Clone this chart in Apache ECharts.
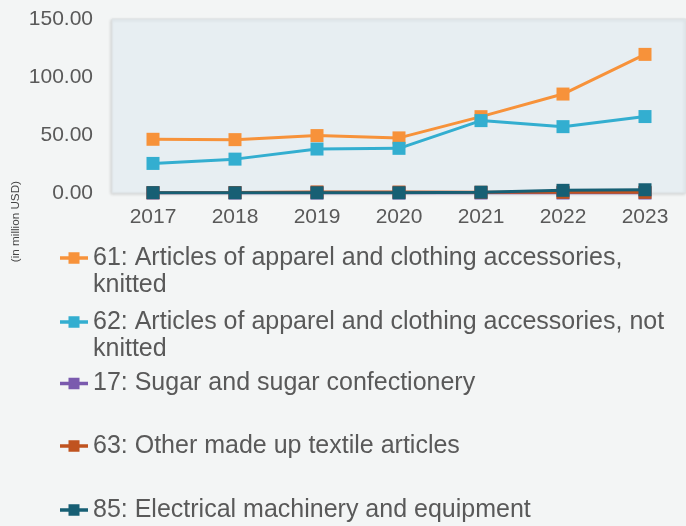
<!DOCTYPE html>
<html><head><meta charset="utf-8">
<script src="https://cdn.jsdelivr.net/npm/echarts@6/dist/echarts.min.js"></script>
<style>html,body{margin:0;padding:0;background:#f3f5f5;}#c{width:686px;height:526px;}</style>
</head><body><div id="c"></div>
<script>
const years = ['2017','2018','2019','2020','2021','2022','2023'];
const names = [
  '61: Articles of apparel and clothing accessories, knitted',
  '62: Articles of apparel and clothing accessories, not knitted',
  '17: Sugar and sugar confectionery',
  '63: Other made up textile articles',
  '85: Electrical machinery and equipment'
];
const s61 = [46.3, 46.0, 49.5, 47.5, 65.8, 85.3, 119.5];
const s62 = [25.5, 29.2, 37.9, 38.5, 62.4, 57.2, 65.9];
const s17 = [0.0, 0.0, 0.0, 0.0, 0.0, 0.0, 0.0];
const s63 = [0.3, 0.4, 0.9, 0.8, 0.6, 0.6, 0.6];
const s85 = [0.3, 0.2, 0.2, 0.2, 0.7, 2.3, 2.8];
const yTicks = [0, 50, 100, 150];

const colors = ['#f7923a', '#33aed0', '#7a5aae', '#c0531f', '#175f74'];
const seriesData = [s61, s62, s17, s63, s85];
const legendLabels = [
  '61: Articles of apparel and clothing accessories,\nknitted',
  '62: Articles of apparel and clothing accessories, not\nknitted',
  names[2], names[3], names[4]
];
const twoLine = [true, true, false, false, false];
const iconCenters = [258, 322, 383.5, 446, 510];
const LH = 27;

// legend glyph: short line with a square in the middle (first line of text)
const shape = 'M0,12 H8.5 V8 H19.5 V12 H28 V15.5 H19.5 V19.5 H8.5 V15.5 H0 Z';
const iconSingle = 'path://' + shape;
// two-line version: same glyph placed at top of a taller (invisible) box
const sy = LH / 2 - 13.75; // shift so glyph center sits at LH/2
const shapeShift = 'M0,' + (12 + sy) + ' H8.5 V' + (8 + sy) + ' H19.5 V' + (12 + sy) + ' H28 V' + (15.5 + sy) +
  ' H19.5 V' + (19.5 + sy) + ' H8.5 V' + (15.5 + sy) + ' H0 Z';
const iconDouble = 'path://M0,0 H0.01 V0.01 Z ' + shapeShift + ' M0,' + (2 * LH - 0.01) + ' H0.01 V' + (2 * LH) + ' Z';

const legends = names.map((n, i) => ({
  data: [{ name: n, icon: twoLine[i] ? iconDouble : iconSingle }],
  orient: 'vertical',
  left: 60,
  top: iconCenters[i] - LH / 2,
  padding: 0,
  itemWidth: 28,
  itemHeight: twoLine[i] ? 2 * LH : 11.5,
  itemGap: 0,
  selectedMode: false,
  itemStyle: { color: colors[i], borderWidth: 0 },
  formatter: () => legendLabels[i],
  textStyle: {
    fontFamily: 'Liberation Sans, Arial, sans-serif', fontSize: 25, color: '#595959', lineHeight: LH
  }
}));

const chart = echarts.init(document.getElementById('c'));
chart.setOption({
  backgroundColor: '#f3f5f5',
  animation: false,
  color: colors,
  legend: legends,
  grid: {
    left: 112, right: 0, top: 19, bottom: 333,
    show: true, backgroundColor: '#e7eef2', borderColor: '#dde1e3', borderWidth: 1,
    shadowColor: 'rgba(0,0,0,0.12)', shadowBlur: 3, shadowOffsetX: -1, shadowOffsetY: 1
  },
  xAxis: {
    type: 'category', data: years, boundaryGap: true,
    axisLine: { show: false }, axisTick: { show: false },
    axisLabel: { fontFamily: 'Liberation Sans, Arial, sans-serif', fontSize: 21, color: '#595959', margin: 14 }
  },
  yAxis: {
    type: 'value', min: yTicks[0], max: yTicks[yTicks.length - 1], interval: 50,
    axisLine: { show: false }, axisTick: { show: false }, splitLine: { show: false },
    axisLabel: { fontFamily: 'Liberation Sans, Arial, sans-serif', fontSize: 21, color: '#595959', margin: 19,
      formatter: v => v.toFixed(2) }
  },
  graphic: [{
    type: 'text', left: 10, top: 181, rotation: Math.PI / 2,
    style: { text: '(in million USD)', font: '11.7px Liberation Sans, Arial, sans-serif', fill: '#444' }
  }],
  series: names.map((n, i) => ({
    name: n, type: 'line', data: seriesData[i],
    symbol: 'rect', symbolSize: 13,
    lineStyle: { width: 3, color: colors[i] },
    itemStyle: { color: colors[i] },
    z: [5, 6, 2, 3, 4][i]
  }))
});
</script></body></html>
